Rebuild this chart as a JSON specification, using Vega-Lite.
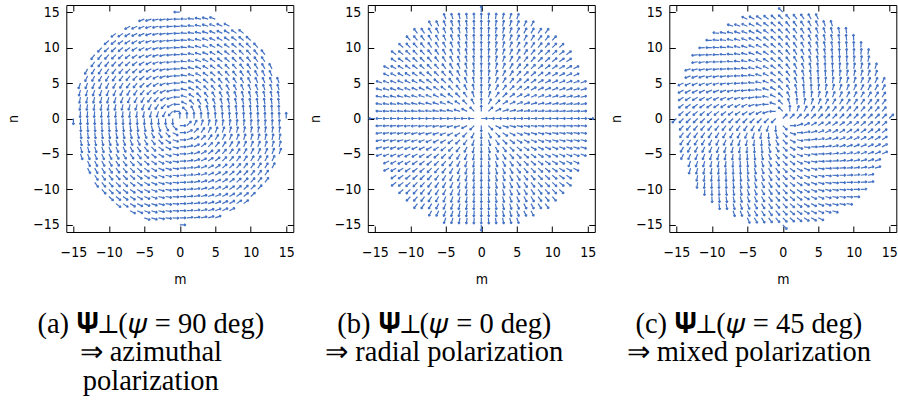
{
"$schema":"https://vega.github.io/schema/vega-lite/v6.json",
"background":"white",
"padding":{"left":5.3,"top":2,"right":2,"bottom":2},
"bounds":"flush",
"spacing":74.5,
"resolve":{"scale":{"angle":"independent","x":"independent","y":"independent"}},
"config":{
 "view":{"stroke":"#000","strokeWidth":1},
 "axis":{"grid":false,"domain":false,"tickSize":-6,"tickColor":"#000","tickWidth":1,"labelFont":"DejaVu Sans Condensed, DejaVu Sans","labelFontSize":14,"labelColor":"#000","titleFont":"DejaVu Sans Condensed, DejaVu Sans","titleFontSize":14,"titleFontWeight":"normal","titleColor":"#000","labelFlush":false,"labelOverlap":false,"values":[-15,-10,-5,0,5,10,15]},
 "title":{"font":"Liberation Serif","fontSize":28.5,"fontWeight":"normal","color":"#000","orient":"bottom","anchor":"middle","lineHeight":28.5,"offset":23}
},
"data":{"values":[
{"m":0,"n":15,"t":90},
{"m":-5,"n":14,"t":110},{"m":-4,"n":14,"t":106},{"m":-3,"n":14,"t":102},{"m":-2,"n":14,"t":98},{"m":-1,"n":14,"t":94},{"m":0,"n":14,"t":90},{"m":1,"n":14,"t":86},{"m":2,"n":14,"t":82},{"m":3,"n":14,"t":78},{"m":4,"n":14,"t":74},{"m":5,"n":14,"t":70},
{"m":-7,"n":13,"t":118},{"m":-6,"n":13,"t":115},{"m":-5,"n":13,"t":111},{"m":-4,"n":13,"t":107},{"m":-3,"n":13,"t":103},{"m":-2,"n":13,"t":99},{"m":-1,"n":13,"t":94},{"m":0,"n":13,"t":90},{"m":1,"n":13,"t":86},{"m":2,"n":13,"t":81},{"m":3,"n":13,"t":77},{"m":4,"n":13,"t":73},{"m":5,"n":13,"t":69},{"m":6,"n":13,"t":65},{"m":7,"n":13,"t":62},
{"m":-9,"n":12,"t":127},{"m":-8,"n":12,"t":124},{"m":-7,"n":12,"t":120},{"m":-6,"n":12,"t":117},{"m":-5,"n":12,"t":113},{"m":-4,"n":12,"t":108},{"m":-3,"n":12,"t":104},{"m":-2,"n":12,"t":99},{"m":-1,"n":12,"t":95},{"m":0,"n":12,"t":90},{"m":1,"n":12,"t":85},{"m":2,"n":12,"t":81},{"m":3,"n":12,"t":76},{"m":4,"n":12,"t":72},{"m":5,"n":12,"t":67},{"m":6,"n":12,"t":63},{"m":7,"n":12,"t":60},{"m":8,"n":12,"t":56},{"m":9,"n":12,"t":53},
{"m":-10,"n":11,"t":132},{"m":-9,"n":11,"t":129},{"m":-8,"n":11,"t":126},{"m":-7,"n":11,"t":122},{"m":-6,"n":11,"t":119},{"m":-5,"n":11,"t":114},{"m":-4,"n":11,"t":110},{"m":-3,"n":11,"t":105},{"m":-2,"n":11,"t":100},{"m":-1,"n":11,"t":95},{"m":0,"n":11,"t":90},{"m":1,"n":11,"t":85},{"m":2,"n":11,"t":80},{"m":3,"n":11,"t":75},{"m":4,"n":11,"t":70},{"m":5,"n":11,"t":66},{"m":6,"n":11,"t":61},{"m":7,"n":11,"t":58},{"m":8,"n":11,"t":54},{"m":9,"n":11,"t":51},{"m":10,"n":11,"t":48},
{"m":-11,"n":10,"t":138},{"m":-10,"n":10,"t":135},{"m":-9,"n":10,"t":132},{"m":-8,"n":10,"t":129},{"m":-7,"n":10,"t":125},{"m":-6,"n":10,"t":121},{"m":-5,"n":10,"t":117},{"m":-4,"n":10,"t":112},{"m":-3,"n":10,"t":107},{"m":-2,"n":10,"t":101},{"m":-1,"n":10,"t":96},{"m":0,"n":10,"t":90},{"m":1,"n":10,"t":84},{"m":2,"n":10,"t":79},{"m":3,"n":10,"t":73},{"m":4,"n":10,"t":68},{"m":5,"n":10,"t":63},{"m":6,"n":10,"t":59},{"m":7,"n":10,"t":55},{"m":8,"n":10,"t":51},{"m":9,"n":10,"t":48},{"m":10,"n":10,"t":45},{"m":11,"n":10,"t":42},
{"m":-12,"n":9,"t":143},{"m":-11,"n":9,"t":141},{"m":-10,"n":9,"t":138},{"m":-9,"n":9,"t":135},{"m":-8,"n":9,"t":132},{"m":-7,"n":9,"t":128},{"m":-6,"n":9,"t":124},{"m":-5,"n":9,"t":119},{"m":-4,"n":9,"t":114},{"m":-3,"n":9,"t":108},{"m":-2,"n":9,"t":103},{"m":-1,"n":9,"t":96},{"m":0,"n":9,"t":90},{"m":1,"n":9,"t":84},{"m":2,"n":9,"t":77},{"m":3,"n":9,"t":72},{"m":4,"n":9,"t":66},{"m":5,"n":9,"t":61},{"m":6,"n":9,"t":56},{"m":7,"n":9,"t":52},{"m":8,"n":9,"t":48},{"m":9,"n":9,"t":45},{"m":10,"n":9,"t":42},{"m":11,"n":9,"t":39},{"m":12,"n":9,"t":37},
{"m":-12,"n":8,"t":146},{"m":-11,"n":8,"t":144},{"m":-10,"n":8,"t":141},{"m":-9,"n":8,"t":138},{"m":-8,"n":8,"t":135},{"m":-7,"n":8,"t":131},{"m":-6,"n":8,"t":127},{"m":-5,"n":8,"t":122},{"m":-4,"n":8,"t":117},{"m":-3,"n":8,"t":111},{"m":-2,"n":8,"t":104},{"m":-1,"n":8,"t":97},{"m":0,"n":8,"t":90},{"m":1,"n":8,"t":83},{"m":2,"n":8,"t":76},{"m":3,"n":8,"t":69},{"m":4,"n":8,"t":63},{"m":5,"n":8,"t":58},{"m":6,"n":8,"t":53},{"m":7,"n":8,"t":49},{"m":8,"n":8,"t":45},{"m":9,"n":8,"t":42},{"m":10,"n":8,"t":39},{"m":11,"n":8,"t":36},{"m":12,"n":8,"t":34},
{"m":-13,"n":7,"t":152},{"m":-12,"n":7,"t":150},{"m":-11,"n":7,"t":148},{"m":-10,"n":7,"t":145},{"m":-9,"n":7,"t":142},{"m":-8,"n":7,"t":139},{"m":-7,"n":7,"t":135},{"m":-6,"n":7,"t":131},{"m":-5,"n":7,"t":126},{"m":-4,"n":7,"t":120},{"m":-3,"n":7,"t":113},{"m":-2,"n":7,"t":106},{"m":-1,"n":7,"t":98},{"m":0,"n":7,"t":90},{"m":1,"n":7,"t":82},{"m":2,"n":7,"t":74},{"m":3,"n":7,"t":67},{"m":4,"n":7,"t":60},{"m":5,"n":7,"t":54},{"m":6,"n":7,"t":49},{"m":7,"n":7,"t":45},{"m":8,"n":7,"t":41},{"m":9,"n":7,"t":38},{"m":10,"n":7,"t":35},{"m":11,"n":7,"t":32},{"m":12,"n":7,"t":30},{"m":13,"n":7,"t":28},
{"m":-13,"n":6,"t":155},{"m":-12,"n":6,"t":153},{"m":-11,"n":6,"t":151},{"m":-10,"n":6,"t":149},{"m":-9,"n":6,"t":146},{"m":-8,"n":6,"t":143},{"m":-7,"n":6,"t":139},{"m":-6,"n":6,"t":135},{"m":-5,"n":6,"t":130},{"m":-4,"n":6,"t":124},{"m":-3,"n":6,"t":117},{"m":-2,"n":6,"t":108},{"m":-1,"n":6,"t":99},{"m":0,"n":6,"t":90},{"m":1,"n":6,"t":81},{"m":2,"n":6,"t":72},{"m":3,"n":6,"t":63},{"m":4,"n":6,"t":56},{"m":5,"n":6,"t":50},{"m":6,"n":6,"t":45},{"m":7,"n":6,"t":41},{"m":8,"n":6,"t":37},{"m":9,"n":6,"t":34},{"m":10,"n":6,"t":31},{"m":11,"n":6,"t":29},{"m":12,"n":6,"t":27},{"m":13,"n":6,"t":25},
{"m":-14,"n":5,"t":160},{"m":-13,"n":5,"t":159},{"m":-12,"n":5,"t":157},{"m":-11,"n":5,"t":156},{"m":-10,"n":5,"t":153},{"m":-9,"n":5,"t":151},{"m":-8,"n":5,"t":148},{"m":-7,"n":5,"t":144},{"m":-6,"n":5,"t":140},{"m":-5,"n":5,"t":135},{"m":-4,"n":5,"t":129},{"m":-3,"n":5,"t":121},{"m":-2,"n":5,"t":112},{"m":-1,"n":5,"t":101},{"m":0,"n":5,"t":90},{"m":1,"n":5,"t":79},{"m":2,"n":5,"t":68},{"m":3,"n":5,"t":59},{"m":4,"n":5,"t":51},{"m":5,"n":5,"t":45},{"m":6,"n":5,"t":40},{"m":7,"n":5,"t":36},{"m":8,"n":5,"t":32},{"m":9,"n":5,"t":29},{"m":10,"n":5,"t":27},{"m":11,"n":5,"t":24},{"m":12,"n":5,"t":23},{"m":13,"n":5,"t":21},{"m":14,"n":5,"t":20},
{"m":-14,"n":4,"t":164},{"m":-13,"n":4,"t":163},{"m":-12,"n":4,"t":162},{"m":-11,"n":4,"t":160},{"m":-10,"n":4,"t":158},{"m":-9,"n":4,"t":156},{"m":-8,"n":4,"t":153},{"m":-7,"n":4,"t":150},{"m":-6,"n":4,"t":146},{"m":-5,"n":4,"t":141},{"m":-4,"n":4,"t":135},{"m":-3,"n":4,"t":127},{"m":-2,"n":4,"t":117},{"m":-1,"n":4,"t":104},{"m":0,"n":4,"t":90},{"m":1,"n":4,"t":76},{"m":2,"n":4,"t":63},{"m":3,"n":4,"t":53},{"m":4,"n":4,"t":45},{"m":5,"n":4,"t":39},{"m":6,"n":4,"t":34},{"m":7,"n":4,"t":30},{"m":8,"n":4,"t":27},{"m":9,"n":4,"t":24},{"m":10,"n":4,"t":22},{"m":11,"n":4,"t":20},{"m":12,"n":4,"t":18},{"m":13,"n":4,"t":17},{"m":14,"n":4,"t":16},
{"m":-14,"n":3,"t":168},{"m":-13,"n":3,"t":167},{"m":-12,"n":3,"t":166},{"m":-11,"n":3,"t":165},{"m":-10,"n":3,"t":163},{"m":-9,"n":3,"t":162},{"m":-8,"n":3,"t":159},{"m":-7,"n":3,"t":157},{"m":-6,"n":3,"t":153},{"m":-5,"n":3,"t":149},{"m":-4,"n":3,"t":143},{"m":-3,"n":3,"t":135},{"m":-2,"n":3,"t":124},{"m":-1,"n":3,"t":108},{"m":0,"n":3,"t":90},{"m":1,"n":3,"t":72},{"m":2,"n":3,"t":56},{"m":3,"n":3,"t":45},{"m":4,"n":3,"t":37},{"m":5,"n":3,"t":31},{"m":6,"n":3,"t":27},{"m":7,"n":3,"t":23},{"m":8,"n":3,"t":21},{"m":9,"n":3,"t":18},{"m":10,"n":3,"t":17},{"m":11,"n":3,"t":15},{"m":12,"n":3,"t":14},{"m":13,"n":3,"t":13},{"m":14,"n":3,"t":12},
{"m":-14,"n":2,"t":172},{"m":-13,"n":2,"t":171},{"m":-12,"n":2,"t":171},{"m":-11,"n":2,"t":170},{"m":-10,"n":2,"t":169},{"m":-9,"n":2,"t":167},{"m":-8,"n":2,"t":166},{"m":-7,"n":2,"t":164},{"m":-6,"n":2,"t":162},{"m":-5,"n":2,"t":158},{"m":-4,"n":2,"t":153},{"m":-3,"n":2,"t":146},{"m":-2,"n":2,"t":135},{"m":-1,"n":2,"t":117},{"m":0,"n":2,"t":90},{"m":1,"n":2,"t":63},{"m":2,"n":2,"t":45},{"m":3,"n":2,"t":34},{"m":4,"n":2,"t":27},{"m":5,"n":2,"t":22},{"m":6,"n":2,"t":18},{"m":7,"n":2,"t":16},{"m":8,"n":2,"t":14},{"m":9,"n":2,"t":13},{"m":10,"n":2,"t":11},{"m":11,"n":2,"t":10},{"m":12,"n":2,"t":9},{"m":13,"n":2,"t":9},{"m":14,"n":2,"t":8},
{"m":-14,"n":1,"t":176},{"m":-13,"n":1,"t":176},{"m":-12,"n":1,"t":175},{"m":-11,"n":1,"t":175},{"m":-10,"n":1,"t":174},{"m":-9,"n":1,"t":174},{"m":-8,"n":1,"t":173},{"m":-7,"n":1,"t":172},{"m":-6,"n":1,"t":171},{"m":-5,"n":1,"t":169},{"m":-4,"n":1,"t":166},{"m":-3,"n":1,"t":162},{"m":-2,"n":1,"t":153},{"m":-1,"n":1,"t":135},{"m":0,"n":1,"t":90},{"m":1,"n":1,"t":45},{"m":2,"n":1,"t":27},{"m":3,"n":1,"t":18},{"m":4,"n":1,"t":14},{"m":5,"n":1,"t":11},{"m":6,"n":1,"t":9},{"m":7,"n":1,"t":8},{"m":8,"n":1,"t":7},{"m":9,"n":1,"t":6},{"m":10,"n":1,"t":6},{"m":11,"n":1,"t":5},{"m":12,"n":1,"t":5},{"m":13,"n":1,"t":4},{"m":14,"n":1,"t":4},
{"m":-15,"n":0,"t":180},{"m":-14,"n":0,"t":180},{"m":-13,"n":0,"t":180},{"m":-12,"n":0,"t":180},{"m":-11,"n":0,"t":180},{"m":-10,"n":0,"t":180},{"m":-9,"n":0,"t":180},{"m":-8,"n":0,"t":180},{"m":-7,"n":0,"t":180},{"m":-6,"n":0,"t":180},{"m":-5,"n":0,"t":180},{"m":-4,"n":0,"t":180},{"m":-3,"n":0,"t":180},{"m":-2,"n":0,"t":180},{"m":-1,"n":0,"t":180},{"m":0,"n":0,"t":0},{"m":1,"n":0,"t":0},{"m":2,"n":0,"t":0},{"m":3,"n":0,"t":0},{"m":4,"n":0,"t":0},{"m":5,"n":0,"t":0},{"m":6,"n":0,"t":0},{"m":7,"n":0,"t":0},{"m":8,"n":0,"t":0},{"m":9,"n":0,"t":0},{"m":10,"n":0,"t":0},{"m":11,"n":0,"t":0},{"m":12,"n":0,"t":0},{"m":13,"n":0,"t":0},{"m":14,"n":0,"t":0},{"m":15,"n":0,"t":0},
{"m":-14,"n":-1,"t":184},{"m":-13,"n":-1,"t":184},{"m":-12,"n":-1,"t":185},{"m":-11,"n":-1,"t":185},{"m":-10,"n":-1,"t":186},{"m":-9,"n":-1,"t":186},{"m":-8,"n":-1,"t":187},{"m":-7,"n":-1,"t":188},{"m":-6,"n":-1,"t":189},{"m":-5,"n":-1,"t":191},{"m":-4,"n":-1,"t":194},{"m":-3,"n":-1,"t":198},{"m":-2,"n":-1,"t":207},{"m":-1,"n":-1,"t":225},{"m":0,"n":-1,"t":270},{"m":1,"n":-1,"t":315},{"m":2,"n":-1,"t":333},{"m":3,"n":-1,"t":342},{"m":4,"n":-1,"t":346},{"m":5,"n":-1,"t":349},{"m":6,"n":-1,"t":351},{"m":7,"n":-1,"t":352},{"m":8,"n":-1,"t":353},{"m":9,"n":-1,"t":354},{"m":10,"n":-1,"t":354},{"m":11,"n":-1,"t":355},{"m":12,"n":-1,"t":355},{"m":13,"n":-1,"t":356},{"m":14,"n":-1,"t":356},
{"m":-14,"n":-2,"t":188},{"m":-13,"n":-2,"t":189},{"m":-12,"n":-2,"t":189},{"m":-11,"n":-2,"t":190},{"m":-10,"n":-2,"t":191},{"m":-9,"n":-2,"t":193},{"m":-8,"n":-2,"t":194},{"m":-7,"n":-2,"t":196},{"m":-6,"n":-2,"t":198},{"m":-5,"n":-2,"t":202},{"m":-4,"n":-2,"t":207},{"m":-3,"n":-2,"t":214},{"m":-2,"n":-2,"t":225},{"m":-1,"n":-2,"t":243},{"m":0,"n":-2,"t":270},{"m":1,"n":-2,"t":297},{"m":2,"n":-2,"t":315},{"m":3,"n":-2,"t":326},{"m":4,"n":-2,"t":333},{"m":5,"n":-2,"t":338},{"m":6,"n":-2,"t":342},{"m":7,"n":-2,"t":344},{"m":8,"n":-2,"t":346},{"m":9,"n":-2,"t":347},{"m":10,"n":-2,"t":349},{"m":11,"n":-2,"t":350},{"m":12,"n":-2,"t":351},{"m":13,"n":-2,"t":351},{"m":14,"n":-2,"t":352},
{"m":-14,"n":-3,"t":192},{"m":-13,"n":-3,"t":193},{"m":-12,"n":-3,"t":194},{"m":-11,"n":-3,"t":195},{"m":-10,"n":-3,"t":197},{"m":-9,"n":-3,"t":198},{"m":-8,"n":-3,"t":201},{"m":-7,"n":-3,"t":203},{"m":-6,"n":-3,"t":207},{"m":-5,"n":-3,"t":211},{"m":-4,"n":-3,"t":217},{"m":-3,"n":-3,"t":225},{"m":-2,"n":-3,"t":236},{"m":-1,"n":-3,"t":252},{"m":0,"n":-3,"t":270},{"m":1,"n":-3,"t":288},{"m":2,"n":-3,"t":304},{"m":3,"n":-3,"t":315},{"m":4,"n":-3,"t":323},{"m":5,"n":-3,"t":329},{"m":6,"n":-3,"t":333},{"m":7,"n":-3,"t":337},{"m":8,"n":-3,"t":339},{"m":9,"n":-3,"t":342},{"m":10,"n":-3,"t":343},{"m":11,"n":-3,"t":345},{"m":12,"n":-3,"t":346},{"m":13,"n":-3,"t":347},{"m":14,"n":-3,"t":348},
{"m":-14,"n":-4,"t":196},{"m":-13,"n":-4,"t":197},{"m":-12,"n":-4,"t":198},{"m":-11,"n":-4,"t":200},{"m":-10,"n":-4,"t":202},{"m":-9,"n":-4,"t":204},{"m":-8,"n":-4,"t":207},{"m":-7,"n":-4,"t":210},{"m":-6,"n":-4,"t":214},{"m":-5,"n":-4,"t":219},{"m":-4,"n":-4,"t":225},{"m":-3,"n":-4,"t":233},{"m":-2,"n":-4,"t":243},{"m":-1,"n":-4,"t":256},{"m":0,"n":-4,"t":270},{"m":1,"n":-4,"t":284},{"m":2,"n":-4,"t":297},{"m":3,"n":-4,"t":307},{"m":4,"n":-4,"t":315},{"m":5,"n":-4,"t":321},{"m":6,"n":-4,"t":326},{"m":7,"n":-4,"t":330},{"m":8,"n":-4,"t":333},{"m":9,"n":-4,"t":336},{"m":10,"n":-4,"t":338},{"m":11,"n":-4,"t":340},{"m":12,"n":-4,"t":342},{"m":13,"n":-4,"t":343},{"m":14,"n":-4,"t":344},
{"m":-14,"n":-5,"t":200},{"m":-13,"n":-5,"t":201},{"m":-12,"n":-5,"t":203},{"m":-11,"n":-5,"t":204},{"m":-10,"n":-5,"t":207},{"m":-9,"n":-5,"t":209},{"m":-8,"n":-5,"t":212},{"m":-7,"n":-5,"t":216},{"m":-6,"n":-5,"t":220},{"m":-5,"n":-5,"t":225},{"m":-4,"n":-5,"t":231},{"m":-3,"n":-5,"t":239},{"m":-2,"n":-5,"t":248},{"m":-1,"n":-5,"t":259},{"m":0,"n":-5,"t":270},{"m":1,"n":-5,"t":281},{"m":2,"n":-5,"t":292},{"m":3,"n":-5,"t":301},{"m":4,"n":-5,"t":309},{"m":5,"n":-5,"t":315},{"m":6,"n":-5,"t":320},{"m":7,"n":-5,"t":324},{"m":8,"n":-5,"t":328},{"m":9,"n":-5,"t":331},{"m":10,"n":-5,"t":333},{"m":11,"n":-5,"t":336},{"m":12,"n":-5,"t":337},{"m":13,"n":-5,"t":339},{"m":14,"n":-5,"t":340},
{"m":-13,"n":-6,"t":205},{"m":-12,"n":-6,"t":207},{"m":-11,"n":-6,"t":209},{"m":-10,"n":-6,"t":211},{"m":-9,"n":-6,"t":214},{"m":-8,"n":-6,"t":217},{"m":-7,"n":-6,"t":221},{"m":-6,"n":-6,"t":225},{"m":-5,"n":-6,"t":230},{"m":-4,"n":-6,"t":236},{"m":-3,"n":-6,"t":243},{"m":-2,"n":-6,"t":252},{"m":-1,"n":-6,"t":261},{"m":0,"n":-6,"t":270},{"m":1,"n":-6,"t":279},{"m":2,"n":-6,"t":288},{"m":3,"n":-6,"t":297},{"m":4,"n":-6,"t":304},{"m":5,"n":-6,"t":310},{"m":6,"n":-6,"t":315},{"m":7,"n":-6,"t":319},{"m":8,"n":-6,"t":323},{"m":9,"n":-6,"t":326},{"m":10,"n":-6,"t":329},{"m":11,"n":-6,"t":331},{"m":12,"n":-6,"t":333},{"m":13,"n":-6,"t":335},
{"m":-13,"n":-7,"t":208},{"m":-12,"n":-7,"t":210},{"m":-11,"n":-7,"t":212},{"m":-10,"n":-7,"t":215},{"m":-9,"n":-7,"t":218},{"m":-8,"n":-7,"t":221},{"m":-7,"n":-7,"t":225},{"m":-6,"n":-7,"t":229},{"m":-5,"n":-7,"t":234},{"m":-4,"n":-7,"t":240},{"m":-3,"n":-7,"t":247},{"m":-2,"n":-7,"t":254},{"m":-1,"n":-7,"t":262},{"m":0,"n":-7,"t":270},{"m":1,"n":-7,"t":278},{"m":2,"n":-7,"t":286},{"m":3,"n":-7,"t":293},{"m":4,"n":-7,"t":300},{"m":5,"n":-7,"t":306},{"m":6,"n":-7,"t":311},{"m":7,"n":-7,"t":315},{"m":8,"n":-7,"t":319},{"m":9,"n":-7,"t":322},{"m":10,"n":-7,"t":325},{"m":11,"n":-7,"t":328},{"m":12,"n":-7,"t":330},{"m":13,"n":-7,"t":332},
{"m":-12,"n":-8,"t":214},{"m":-11,"n":-8,"t":216},{"m":-10,"n":-8,"t":219},{"m":-9,"n":-8,"t":222},{"m":-8,"n":-8,"t":225},{"m":-7,"n":-8,"t":229},{"m":-6,"n":-8,"t":233},{"m":-5,"n":-8,"t":238},{"m":-4,"n":-8,"t":243},{"m":-3,"n":-8,"t":249},{"m":-2,"n":-8,"t":256},{"m":-1,"n":-8,"t":263},{"m":0,"n":-8,"t":270},{"m":1,"n":-8,"t":277},{"m":2,"n":-8,"t":284},{"m":3,"n":-8,"t":291},{"m":4,"n":-8,"t":297},{"m":5,"n":-8,"t":302},{"m":6,"n":-8,"t":307},{"m":7,"n":-8,"t":311},{"m":8,"n":-8,"t":315},{"m":9,"n":-8,"t":318},{"m":10,"n":-8,"t":321},{"m":11,"n":-8,"t":324},{"m":12,"n":-8,"t":326},
{"m":-12,"n":-9,"t":217},{"m":-11,"n":-9,"t":219},{"m":-10,"n":-9,"t":222},{"m":-9,"n":-9,"t":225},{"m":-8,"n":-9,"t":228},{"m":-7,"n":-9,"t":232},{"m":-6,"n":-9,"t":236},{"m":-5,"n":-9,"t":241},{"m":-4,"n":-9,"t":246},{"m":-3,"n":-9,"t":252},{"m":-2,"n":-9,"t":257},{"m":-1,"n":-9,"t":264},{"m":0,"n":-9,"t":270},{"m":1,"n":-9,"t":276},{"m":2,"n":-9,"t":283},{"m":3,"n":-9,"t":288},{"m":4,"n":-9,"t":294},{"m":5,"n":-9,"t":299},{"m":6,"n":-9,"t":304},{"m":7,"n":-9,"t":308},{"m":8,"n":-9,"t":312},{"m":9,"n":-9,"t":315},{"m":10,"n":-9,"t":318},{"m":11,"n":-9,"t":321},{"m":12,"n":-9,"t":323},
{"m":-11,"n":-10,"t":222},{"m":-10,"n":-10,"t":225},{"m":-9,"n":-10,"t":228},{"m":-8,"n":-10,"t":231},{"m":-7,"n":-10,"t":235},{"m":-6,"n":-10,"t":239},{"m":-5,"n":-10,"t":243},{"m":-4,"n":-10,"t":248},{"m":-3,"n":-10,"t":253},{"m":-2,"n":-10,"t":259},{"m":-1,"n":-10,"t":264},{"m":0,"n":-10,"t":270},{"m":1,"n":-10,"t":276},{"m":2,"n":-10,"t":281},{"m":3,"n":-10,"t":287},{"m":4,"n":-10,"t":292},{"m":5,"n":-10,"t":297},{"m":6,"n":-10,"t":301},{"m":7,"n":-10,"t":305},{"m":8,"n":-10,"t":309},{"m":9,"n":-10,"t":312},{"m":10,"n":-10,"t":315},{"m":11,"n":-10,"t":318},
{"m":-10,"n":-11,"t":228},{"m":-9,"n":-11,"t":231},{"m":-8,"n":-11,"t":234},{"m":-7,"n":-11,"t":238},{"m":-6,"n":-11,"t":241},{"m":-5,"n":-11,"t":246},{"m":-4,"n":-11,"t":250},{"m":-3,"n":-11,"t":255},{"m":-2,"n":-11,"t":260},{"m":-1,"n":-11,"t":265},{"m":0,"n":-11,"t":270},{"m":1,"n":-11,"t":275},{"m":2,"n":-11,"t":280},{"m":3,"n":-11,"t":285},{"m":4,"n":-11,"t":290},{"m":5,"n":-11,"t":294},{"m":6,"n":-11,"t":299},{"m":7,"n":-11,"t":302},{"m":8,"n":-11,"t":306},{"m":9,"n":-11,"t":309},{"m":10,"n":-11,"t":312},
{"m":-9,"n":-12,"t":233},{"m":-8,"n":-12,"t":236},{"m":-7,"n":-12,"t":240},{"m":-6,"n":-12,"t":243},{"m":-5,"n":-12,"t":247},{"m":-4,"n":-12,"t":252},{"m":-3,"n":-12,"t":256},{"m":-2,"n":-12,"t":261},{"m":-1,"n":-12,"t":265},{"m":0,"n":-12,"t":270},{"m":1,"n":-12,"t":275},{"m":2,"n":-12,"t":279},{"m":3,"n":-12,"t":284},{"m":4,"n":-12,"t":288},{"m":5,"n":-12,"t":293},{"m":6,"n":-12,"t":297},{"m":7,"n":-12,"t":300},{"m":8,"n":-12,"t":304},{"m":9,"n":-12,"t":307},
{"m":-7,"n":-13,"t":242},{"m":-6,"n":-13,"t":245},{"m":-5,"n":-13,"t":249},{"m":-4,"n":-13,"t":253},{"m":-3,"n":-13,"t":257},{"m":-2,"n":-13,"t":261},{"m":-1,"n":-13,"t":266},{"m":0,"n":-13,"t":270},{"m":1,"n":-13,"t":274},{"m":2,"n":-13,"t":279},{"m":3,"n":-13,"t":283},{"m":4,"n":-13,"t":287},{"m":5,"n":-13,"t":291},{"m":6,"n":-13,"t":295},{"m":7,"n":-13,"t":298},
{"m":-5,"n":-14,"t":250},{"m":-4,"n":-14,"t":254},{"m":-3,"n":-14,"t":258},{"m":-2,"n":-14,"t":262},{"m":-1,"n":-14,"t":266},{"m":0,"n":-14,"t":270},{"m":1,"n":-14,"t":274},{"m":2,"n":-14,"t":278},{"m":3,"n":-14,"t":282},{"m":4,"n":-14,"t":286},{"m":5,"n":-14,"t":290},
{"m":0,"n":-15,"t":270}
]},
"hconcat":[
 {"width":227,"height":227,
  "title":{"text":["(a) 𝚿⊥(𝜓 = 90 deg)","⇒ azimuthal","polarization"],"dx":-29},
  "resolve":{"axis":{"x":"independent","y":"independent"}},
  "layer":[
   {"mark":{"type":"point","shape":"M0,0L2,0M2,0L1.4,-0.35M2,0L1.4,0.35","filled":false,"size":40,"strokeWidth":1.2,"color":"#4472c4","opacity":1},
    "encoding":{
     "x":{"field":"m","type":"quantitative","scale":{"domain":[-16,16],"nice":false,"zero":false},"axis":{"orient":"bottom","title":"m","labelPadding":20,"titlePadding":13}},
     "y":{"field":"n","type":"quantitative","scale":{"domain":[-16,16],"nice":false,"zero":false},"axis":{"orient":"left","title":"n","labelPadding":13,"titlePadding":12}},
     "angle":{"field":"t","type":"quantitative","scale":{"domain":[0,360],"range":[-90,-450]}}}},
   {"transform":[{"filter":"datum.m == 0 && datum.n == 0"}],
    "mark":{"type":"point","opacity":0},
    "encoding":{
     "x":{"field":"m","type":"quantitative","scale":{"domain":[-16,16],"nice":false,"zero":false},"axis":{"orient":"top","title":null,"labels":false}},
     "y":{"field":"n","type":"quantitative","scale":{"domain":[-16,16],"nice":false,"zero":false},"axis":{"orient":"right","title":null,"labels":false}}}}
  ]},
 {"width":227,"height":227,
  "title":{"text":["(b) 𝚿⊥(𝜓 = 0 deg)","⇒ radial polarization"],"dx":-37},
  "resolve":{"axis":{"x":"independent","y":"independent"}},
  "layer":[
   {"mark":{"type":"point","shape":"M0,0L2,0M2,0L1.4,-0.35M2,0L1.4,0.35","filled":false,"size":40,"strokeWidth":1.2,"color":"#4472c4","opacity":1},
    "encoding":{
     "x":{"field":"m","type":"quantitative","scale":{"domain":[-16,16],"nice":false,"zero":false},"axis":{"orient":"bottom","title":"m","labelPadding":20,"titlePadding":13}},
     "y":{"field":"n","type":"quantitative","scale":{"domain":[-16,16],"nice":false,"zero":false},"axis":{"orient":"left","title":"n","labelPadding":13,"titlePadding":12}},
     "angle":{"field":"t","type":"quantitative","scale":{"domain":[0,360],"range":[0,-360]}}}},
   {"transform":[{"filter":"datum.m == 0 && datum.n == 0"}],
    "mark":{"type":"point","opacity":0},
    "encoding":{
     "x":{"field":"m","type":"quantitative","scale":{"domain":[-16,16],"nice":false,"zero":false},"axis":{"orient":"top","title":null,"labels":false}},
     "y":{"field":"n","type":"quantitative","scale":{"domain":[-16,16],"nice":false,"zero":false},"axis":{"orient":"right","title":null,"labels":false}}}}
  ]},
 {"width":227,"height":227,
  "title":{"text":["(c) 𝚿⊥(𝜓 = 45 deg)","⇒ mixed polarization"],"dx":-34},
  "resolve":{"axis":{"x":"independent","y":"independent"}},
  "layer":[
   {"mark":{"type":"point","shape":"M0,0L2,0M2,0L1.4,-0.35M2,0L1.4,0.35","filled":false,"size":40,"strokeWidth":1.2,"color":"#4472c4","opacity":1},
    "encoding":{
     "x":{"field":"m","type":"quantitative","scale":{"domain":[-16,16],"nice":false,"zero":false},"axis":{"orient":"bottom","title":"m","labelPadding":20,"titlePadding":13}},
     "y":{"field":"n","type":"quantitative","scale":{"domain":[-16,16],"nice":false,"zero":false},"axis":{"orient":"left","title":"n","labelPadding":13,"titlePadding":12}},
     "angle":{"field":"t","type":"quantitative","scale":{"domain":[0,360],"range":[-45,-405]}}}},
   {"transform":[{"filter":"datum.m == 0 && datum.n == 0"}],
    "mark":{"type":"point","opacity":0},
    "encoding":{
     "x":{"field":"m","type":"quantitative","scale":{"domain":[-16,16],"nice":false,"zero":false},"axis":{"orient":"top","title":null,"labels":false}},
     "y":{"field":"n","type":"quantitative","scale":{"domain":[-16,16],"nice":false,"zero":false},"axis":{"orient":"right","title":null,"labels":false}}}}
  ]}
]
}
